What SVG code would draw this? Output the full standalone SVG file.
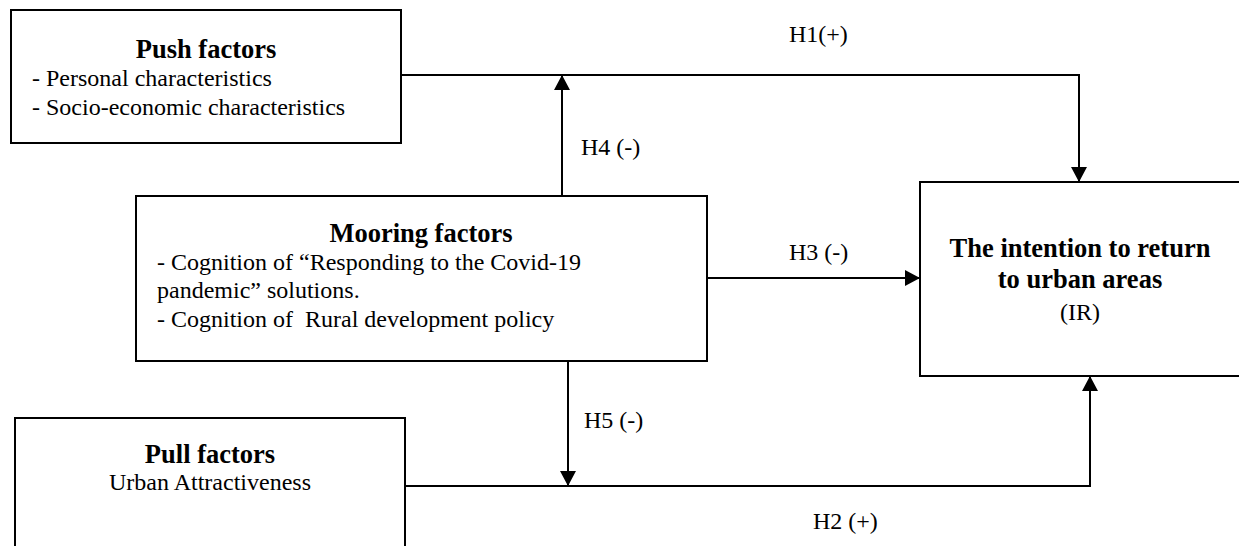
<svg xmlns="http://www.w3.org/2000/svg" width="1239" height="546" viewBox="0 0 1239 546">
<style>
.box{fill:#fff;stroke:#000;stroke-width:2}
.t{font-family:"Liberation Serif","Times New Roman",serif;font-size:24px;fill:#000}
.b{font-family:"Liberation Serif","Times New Roman",serif;font-size:26.5px;font-weight:bold;fill:#000}
.c{text-anchor:middle}
.ln{fill:none;stroke:#000;stroke-width:2}
</style>
<defs>
<marker id="ah" viewBox="0 0 15 16" refX="15" refY="8" markerWidth="15" markerHeight="16" markerUnits="userSpaceOnUse" orient="auto">
<path d="M0,0 L15,8 L0,16 Z" fill="#000"/>
</marker>
</defs>
<rect width="1239" height="546" fill="#fff"/>
<g id="connectors">
<path class="ln" d="M401,75 H1079 V182" marker-end="url(#ah)"/>
<path class="ln" d="M562,196 V75" marker-end="url(#ah)"/>
<path class="ln" d="M707,278 H920" marker-end="url(#ah)"/>
<path class="ln" d="M568,361 V486" marker-end="url(#ah)"/>
<path class="ln" d="M403,486 H1090 V376" marker-end="url(#ah)"/>
<text class="t" x="789" y="42">H1(+)</text>
<text class="t" x="581" y="155">H4 (-)</text>
<text class="t" x="789" y="260">H3 (-)</text>
<text class="t" x="584" y="428">H5 (-)</text>
<text class="t" x="813" y="529">H2 (+)</text>
</g>
<g id="push">
<rect class="box" x="11" y="10" width="390" height="133"/>
<text class="b c" x="206" y="58">Push factors</text>
<text class="t" x="32" y="86">- Personal characteristics</text>
<text class="t" x="32" y="115">- Socio-economic characteristics</text>
</g>
<g id="mooring">
<rect class="box" x="136" y="196" width="571" height="165"/>
<text class="b c" x="421" y="242">Mooring factors</text>
<text class="t" x="157" y="270">- Cognition of “Responding to the Covid-19</text>
<text class="t" x="157" y="298">pandemic” solutions.</text>
<text class="t" x="157" y="327" xml:space="preserve">- Cognition of  Rural development policy</text>
</g>
<g id="pull">
<rect class="box" x="15" y="418" width="390" height="150"/>
<text class="b c" x="210" y="463">Pull factors</text>
<text class="t c" x="210" y="490">Urban Attractiveness</text>
</g>
<g id="ir">
<rect class="box" x="920" y="182" width="321" height="194"/>
<text class="b c" x="1080" y="257">The intention to return</text>
<text class="b c" x="1080" y="288">to urban areas</text>
<text class="t c" x="1080" y="320">(IR)</text>
</g>
</svg>
